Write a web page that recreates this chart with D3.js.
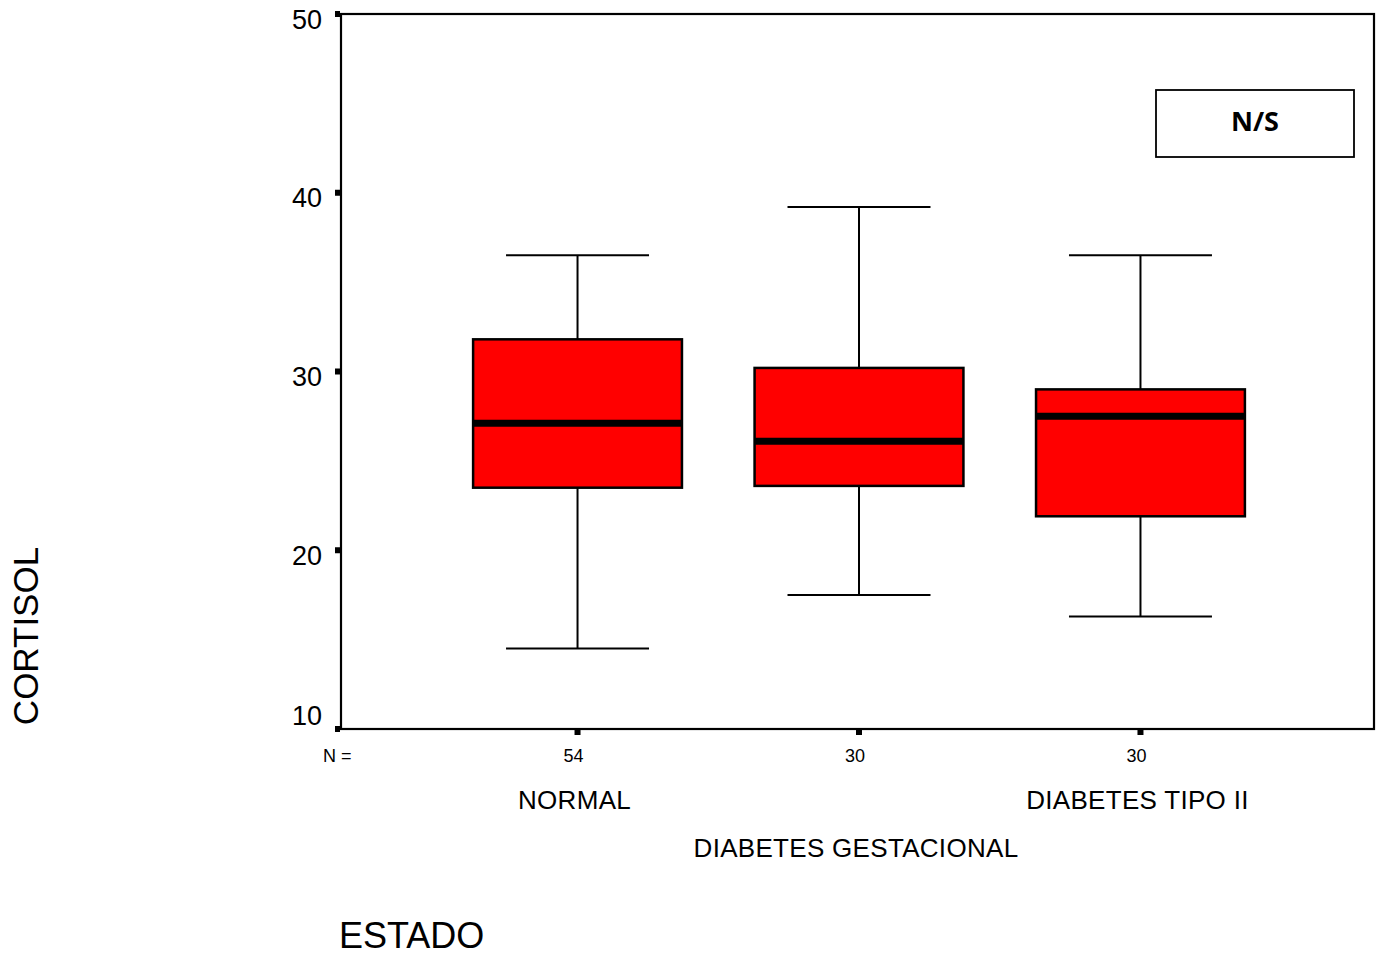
<!DOCTYPE html>
<html>
<head>
<meta charset="utf-8">
<script src="https://cdn.jsdelivr.net/npm/d3@7"></script>
<style>
  html, body { margin: 0; padding: 0; background: #fff; }
  svg { display: block; }
  text { font-family: "Liberation Sans", Arial, sans-serif; fill: #000; }
</style>
</head>
<body>
<svg id="chart" width="1377" height="956"></svg>
<script>
// Cortisol by group: box-plot summaries
const categories = ["NORMAL", "DIABETES GESTACIONAL", "DIABETES TIPO II"];
const counts     = [54, 30, 30];
const whiskerLow = [14.5, 17.5, 16.3];
const q1         = [23.5, 23.6, 21.9];
const median     = [27.1, 26.1, 27.5];
const q3         = [31.8, 30.2, 29.0];
const whiskerHigh= [36.5, 39.2, 36.5];
const yTicks     = [10, 20, 30, 40, 50];

const svg = d3.select("#chart");
const plot = { left: 341, right: 1374, top: 14, bottom: 729 };

const y = d3.scaleLinear().domain([10, 50]).range([plot.bottom, plot.top]);
const x = d3.scalePoint().domain(categories)
  .range([plot.left + 1.5, plot.right + 1.5]).padding(0.835);
const step = x.step();
const boxW = step * 0.742;
const capW = step * 0.508;

// frame
svg.append("rect")
  .attr("x", plot.left).attr("y", plot.top)
  .attr("width", plot.right - plot.left).attr("height", plot.bottom - plot.top)
  .attr("fill", "none").attr("stroke", "#000").attr("stroke-width", 2.2);

// y ticks (small squares left of the axis)
svg.selectAll(".ytick").data(yTicks).enter().append("rect")
  .attr("x", plot.left - 6).attr("y", d => y(d) - 3)
  .attr("width", 5).attr("height", 6).attr("fill", "#000");

svg.selectAll(".ylab").data(yTicks).enter().append("text")
  .attr("x", 322)
  .attr("y", d => Math.min(Math.max(y(d) + 5, plot.top + 6), plot.bottom - 13))
  .attr("dy", "0.35em")
  .attr("text-anchor", "end")
  .attr("font-size", 27)
  .text(d => d);

// x ticks (small squares below the axis)
svg.selectAll(".xtick").data(categories).enter().append("rect")
  .attr("x", d => x(d) - 3).attr("y", plot.bottom)
  .attr("width", 6).attr("height", 6).attr("fill", "#000");

// N counts
svg.append("text").attr("x", 323).attr("y", 762).attr("font-size", 18).text("N =");
svg.selectAll(".nlab").data(categories).enter().append("text")
  .attr("x", d => x(d) - 4).attr("y", 762)
  .attr("text-anchor", "middle").attr("font-size", 18)
  .text((d, i) => counts[i]);

// category labels, staggered
svg.selectAll(".clab").data(categories).enter().append("text")
  .attr("x", d => x(d) - 3)
  .attr("y", (d, i) => i % 2 === 0 ? 809 : 857)
  .attr("text-anchor", "middle").attr("font-size", 26)
  .attr("letter-spacing", 0.3)
  .text(d => d);

// boxes
const g = svg.selectAll(".box").data(categories).enter().append("g");

g.append("line")
  .attr("x1", d => x(d)).attr("x2", d => x(d))
  .attr("y1", (d, i) => y(whiskerHigh[i])).attr("y2", (d, i) => y(q3[i]))
  .attr("stroke", "#000").attr("stroke-width", 2);
g.append("line")
  .attr("x1", d => x(d)).attr("x2", d => x(d))
  .attr("y1", (d, i) => y(q1[i])).attr("y2", (d, i) => y(whiskerLow[i]))
  .attr("stroke", "#000").attr("stroke-width", 2);
g.append("line")
  .attr("x1", d => x(d) - capW / 2).attr("x2", d => x(d) + capW / 2)
  .attr("y1", (d, i) => y(whiskerHigh[i])).attr("y2", (d, i) => y(whiskerHigh[i]))
  .attr("stroke", "#000").attr("stroke-width", 2);
g.append("line")
  .attr("x1", d => x(d) - capW / 2).attr("x2", d => x(d) + capW / 2)
  .attr("y1", (d, i) => y(whiskerLow[i])).attr("y2", (d, i) => y(whiskerLow[i]))
  .attr("stroke", "#000").attr("stroke-width", 2);
g.append("rect")
  .attr("x", d => x(d) - boxW / 2).attr("width", boxW)
  .attr("y", (d, i) => y(q3[i])).attr("height", (d, i) => y(q1[i]) - y(q3[i]))
  .attr("fill", "#ff0000").attr("stroke", "#000").attr("stroke-width", 2.5);
g.append("line")
  .attr("x1", d => x(d) - boxW / 2).attr("x2", d => x(d) + boxW / 2)
  .attr("y1", (d, i) => y(median[i])).attr("y2", (d, i) => y(median[i]))
  .attr("stroke", "#000").attr("stroke-width", 7);

// significance note
svg.append("rect")
  .attr("x", 1156).attr("y", 90).attr("width", 198).attr("height", 67)
  .attr("fill", "#fff").attr("stroke", "#000").attr("stroke-width", 1.8);
svg.append("text")
  .attr("x", 1255).attr("y", 122).attr("dy", "0.35em")
  .attr("text-anchor", "middle").attr("font-size", 27).attr("font-weight", "bold")
  .style("font-family", "'Open Sans', 'Noto Sans', sans-serif")
  .text("N/S");

// axis titles
svg.append("text")
  .attr("transform", "translate(38,636) rotate(-90)")
  .attr("text-anchor", "middle").attr("font-size", 35)
  .text("CORTISOL");
svg.append("text")
  .attr("x", 339).attr("y", 948)
  .attr("font-size", 36)
  .text("ESTADO");
</script>
</body>
</html>
